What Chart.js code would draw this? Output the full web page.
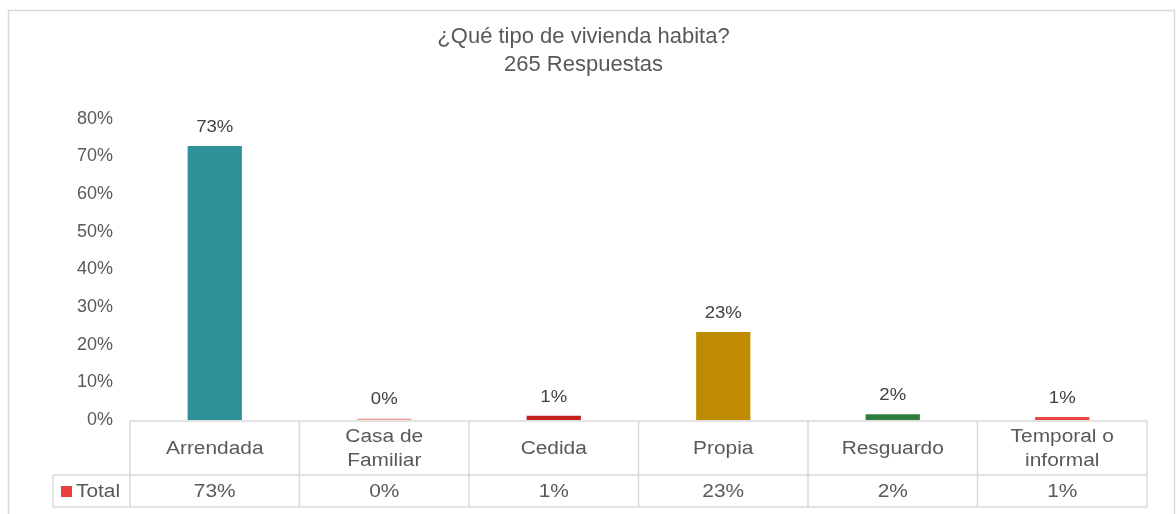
<!DOCTYPE html>
<html>
  <head>
    <style>
      body { margin: 0; background: #fff; }
      #wrap { position: absolute; left: 0; top: 0; width: 1176px; height: 514px; }
    </style>
    <script src="https://cdn.jsdelivr.net/npm/chart.js"></script>
  </head>
  <body>
    <div id="wrap"><canvas id="viviendaChart"></canvas></div>

    <script>
      var categories = [['Arrendada'], ['Casa de', 'Familiar'], ['Cedida'], ['Propia'], ['Resguardo'], ['Temporal o', 'informal']];
      var totals = [72.8, 0.4, 1.1, 23.4, 1.5, 0.8];   // % of 265 respuestas
      var barColors = ['#2E9099', '#F2A79C', '#C4231C', '#BF8B00', '#2E7D3F', '#E8483F'];
      var yTicks = [0, 10, 20, 30, 40, 50, 60, 70, 80];

      var FONT = "'Liberation Sans', Arial, sans-serif";
      var GREY = '#595959';
      var LINE = '#d9d9d9';
      var SX = 1.16; // the source text is a bit wide

      function wideText(ctx, t, x, y) {
        ctx.save();
        ctx.translate(x, y);
        ctx.scale(SX, 1);
        ctx.fillText(t, 0, 0);
        ctx.restore();
      }

      // outer chart border
      var borderPlugin = {
        id: 'border',
        beforeDraw: function (chart) {
          var ctx = chart.ctx;
          ctx.save();
          ctx.fillStyle = '#fff';
          ctx.fillRect(0, 0, chart.width, chart.height);
          ctx.strokeStyle = LINE;
          ctx.lineWidth = 1.5;
          ctx.strokeRect(8.5, 10.5, 1166, 520);
          ctx.restore();
        }
      };

      // value labels above bars
      var labelPlugin = {
        id: 'barLabels',
        afterDatasetsDraw: function (chart) {
          var ctx = chart.ctx;
          var meta = chart.getDatasetMeta(0);
          ctx.save();
          ctx.font = '16px ' + FONT;
          ctx.fillStyle = '#404040';
          ctx.textAlign = 'center';
          ctx.textBaseline = 'alphabetic';
          meta.data.forEach(function (bar, i) {
            wideText(ctx, Math.round(totals[i]) + '%', bar.x, bar.y - 14);
          });
          ctx.restore();
        }
      };

      // Excel-style data table under the axis
      var tablePlugin = {
        id: 'dataTable',
        afterDraw: function (chart) {
          var ctx = chart.ctx;
          var area = chart.chartArea;
          var x = chart.scales.x;
          var n = categories.length;
          var catW = (area.right - area.left) / n;
          var top = area.bottom + 1;
          var mid = top + 54;
          var bot = mid + 32;
          var headL = 53;

          ctx.save();
          ctx.strokeStyle = LINE;
          ctx.lineWidth = 1.5;
          ctx.beginPath();
          ctx.moveTo(area.left, top); ctx.lineTo(area.right, top);
          ctx.moveTo(headL, mid); ctx.lineTo(area.right, mid);
          ctx.moveTo(headL, bot); ctx.lineTo(area.right, bot);
          ctx.moveTo(headL, mid); ctx.lineTo(headL, bot);
          for (var i = 0; i <= n; i++) {
            var lx = area.left + i * catW;
            ctx.moveTo(lx, top); ctx.lineTo(lx, bot);
          }
          ctx.stroke();

          ctx.fillStyle = GREY;
          ctx.font = '18px ' + FONT;
          ctx.textAlign = 'center';
          ctx.textBaseline = 'middle';
          categories.forEach(function (lines, i) {
            var cx = x.getPixelForValue(i);
            var cy = (top + mid) / 2 + 1;
            var lh = 24;
            lines.forEach(function (t, j) {
              wideText(ctx, t, cx, cy + (j - (lines.length - 1) / 2) * lh);
            });
            wideText(ctx, Math.round(totals[i]) + '%', cx, (mid + bot) / 2 + 1);
          });

          // row header with legend key
          ctx.fillStyle = '#E8403A';
          ctx.fillRect(61, (mid + bot) / 2 - 5, 11, 11);
          ctx.fillStyle = GREY;
          ctx.textAlign = 'left';
          wideText(ctx, 'Total', 76, (mid + bot) / 2 + 1);
          ctx.restore();
        }
      };

      var ctx = document.getElementById('viviendaChart').getContext('2d');
      new Chart(ctx, {
        type: 'bar',
        data: {
          labels: categories,
          datasets: [{
            label: 'Total',
            data: totals,
            backgroundColor: barColors,
            categoryPercentage: 1,
            barPercentage: 0.32
          }]
        },
        options: {
          responsive: true,
          maintainAspectRatio: false,
          animation: false,
          layout: { padding: { top: 12, left: 20, right: 29, bottom: 94 } },
          plugins: {
            legend: { display: false },
            tooltip: { enabled: false },
            title: {
              display: true,
              text: ['¿Qué tipo de vivienda habita?', '265 Respuestas'],
              color: GREY,
              font: { family: FONT, size: 22, weight: 'normal', lineHeight: 1.27 },
              padding: { top: 11, bottom: 40 }
            }
          },
          scales: {
            x: { display: false },
            y: {
              min: 0,
              max: 80,
              afterBuildTicks: function (s) {
                s.ticks = yTicks.map(function (v) { return { value: v }; });
              },
              afterFit: function (s) { s.width = 110; },
              grid: { display: false, drawTicks: false },
              border: { display: false },
              ticks: {
                padding: 17,
                color: GREY,
                font: { family: FONT, size: 18 },
                callback: function (v) { return v + '%'; }
              }
            }
          }
        },
        plugins: [borderPlugin, labelPlugin, tablePlugin]
      });
    </script>
  </body>
</html>
